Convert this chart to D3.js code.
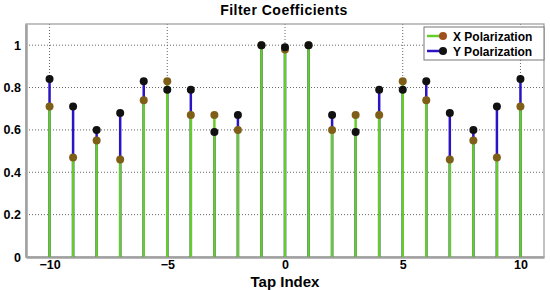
<!DOCTYPE html>
<html>
<head>
<meta charset="utf-8">
<script src="https://cdn.jsdelivr.net/npm/d3@7"></script>
<style>
  body { margin: 0; background: #fff; }
  text { font-family: "Liberation Sans", Arial, sans-serif; font-weight: bold; }
</style>
</head>
<body>
<svg id="chart"></svg>
<script>
// data
const taps = [-10, -9, -8, -7, -6, -5, -4, -3, -2, -1, 0, 1, 2, 3, 4, 5, 6, 7, 8, 9, 10];
const xPol = [0.71, 0.47, 0.55, 0.46, 0.74, 0.83, 0.67, 0.67, 0.60, 1.0, 0.98, 1.0, 0.60, 0.67, 0.67, 0.83, 0.74, 0.46, 0.55, 0.47, 0.71];
const yPol = [0.84, 0.71, 0.60, 0.68, 0.83, 0.79, 0.79, 0.59, 0.67, 1.0, 0.99, 1.0, 0.67, 0.59, 0.79, 0.79, 0.83, 0.68, 0.60, 0.71, 0.84];
const xTicks = [-10, -5, 0, 5, 10];
const yTicks = [0, 0.2, 0.4, 0.6, 0.8, 1];
const seriesNames = ["X Polarization", "Y Polarization"];

// constants
const width = 550;
const height = 290;
const margin = { left: 26, right: 6, top: 24, bottom: 33 };
const visWidth = width - margin.left - margin.right;
const visHeight = height - margin.top - margin.bottom;

const green = "#66cc2a";
const blue = "#2a14c4";
const xMarker = "#7f5f18";
const yMarker = "#111";

const svg = d3.select("#chart")
  .attr("width", width)
  .attr("height", height);

const chart = svg.append("g")
  .attr("transform", "translate(" + margin.left + "," + margin.top + ")");

const x = d3.scaleLinear().domain([-11, 11]).range([0, visWidth]);
const y = d3.scaleLinear().domain([0, 1.1]).range([visHeight, 0]);

// grid
chart.selectAll(".hgrid")
  .data(yTicks.filter(d => d > 0))
  .enter().append("line")
  .attr("x1", 0).attr("x2", visWidth)
  .attr("y1", d => y(d)).attr("y2", d => y(d))
  .attr("stroke", "#666").attr("stroke-width", 1)
  .attr("stroke-dasharray", "1,2");

chart.selectAll(".vgrid")
  .data(xTicks)
  .enter().append("line")
  .attr("x1", d => x(d)).attr("x2", d => x(d))
  .attr("y1", 0).attr("y2", visHeight)
  .attr("stroke", "#666").attr("stroke-width", 1)
  .attr("stroke-dasharray", "1,2");

// frame
chart.append("rect")
  .attr("width", visWidth).attr("height", visHeight)
  .attr("fill", "none").attr("stroke", "#999").attr("stroke-width", 1.2);

// axes
const xAxis = chart.append("g")
  .attr("transform", "translate(0," + visHeight + ")")
  .call(d3.axisBottom(x).tickValues(xTicks).tickSize(0).tickPadding(3)
    .tickFormat(d => d < 0 ? "\u2212" + Math.abs(d) : d));
const yAxis = chart.append("g")
  .call(d3.axisLeft(y).tickValues(yTicks).tickSize(0).tickPadding(5)
    .tickFormat(d3.format("~g")));
[xAxis, yAxis].forEach(a => {
  a.select(".domain").attr("stroke", "#a0a0a0").attr("stroke-width", 2.5);
  a.selectAll("text").attr("font-size", 12.5).attr("fill", "#000")
    .style("font-family", "'Liberation Sans', Arial, sans-serif").style("font-weight", "bold");
});

// stems: Y behind, X in front
chart.selectAll(".ystem")
  .data(taps)
  .enter().append("line")
  .attr("x1", d => x(d)).attr("x2", d => x(d))
  .attr("y1", y(0)).attr("y2", (d, i) => y(yPol[i]))
  .attr("stroke", blue).attr("stroke-width", 2.5);

chart.selectAll(".xstem")
  .data(taps)
  .enter().append("line")
  .attr("x1", d => x(d)).attr("x2", d => x(d))
  .attr("y1", y(0)).attr("y2", (d, i) => y(xPol[i]))
  .attr("stroke", green).attr("stroke-width", 2.5);

// markers
chart.selectAll(".xdot")
  .data(taps)
  .enter().append("circle")
  .attr("cx", d => x(d)).attr("cy", (d, i) => y(xPol[i]))
  .attr("r", 4).attr("fill", xMarker);

chart.selectAll(".ydot")
  .data(taps)
  .enter().append("circle")
  .attr("cx", d => x(d)).attr("cy", (d, i) => y(yPol[i]))
  .attr("r", 4).attr("fill", yMarker);

// title and label
svg.append("text")
  .attr("x", margin.left + x(0) - 1).attr("y", 15)
  .attr("text-anchor", "middle").attr("font-size", 14)
  .attr("letter-spacing", 0.5)
  .text("Filter Coefficients");

svg.append("text")
  .attr("x", margin.left + x(0)).attr("y", 286.5)
  .attr("text-anchor", "middle").attr("font-size", 15)
  .text("Tap Index");

// legend
const legend = svg.append("g").attr("transform", "translate(424,27)");
legend.append("rect")
  .attr("width", 120).attr("height", 33)
  .attr("fill", "#fff").attr("stroke", "#777").attr("stroke-width", 1);

const legendColors = [[green, "#a0501e"], [blue, yMarker]];
seriesNames.forEach((name, i) => {
  const ly = 9 + i * 15;
  legend.append("line")
    .attr("x1", 3).attr("x2", 18).attr("y1", ly).attr("y2", ly)
    .attr("stroke", legendColors[i][0]).attr("stroke-width", 2.5);
  legend.append("circle")
    .attr("cx", 19).attr("cy", ly).attr("r", 4).attr("fill", legendColors[i][1]);
  legend.append("text")
    .attr("x", 29).attr("y", ly + 4.5).attr("font-size", 12)
    .text(name);
});
</script>
</body>
</html>
